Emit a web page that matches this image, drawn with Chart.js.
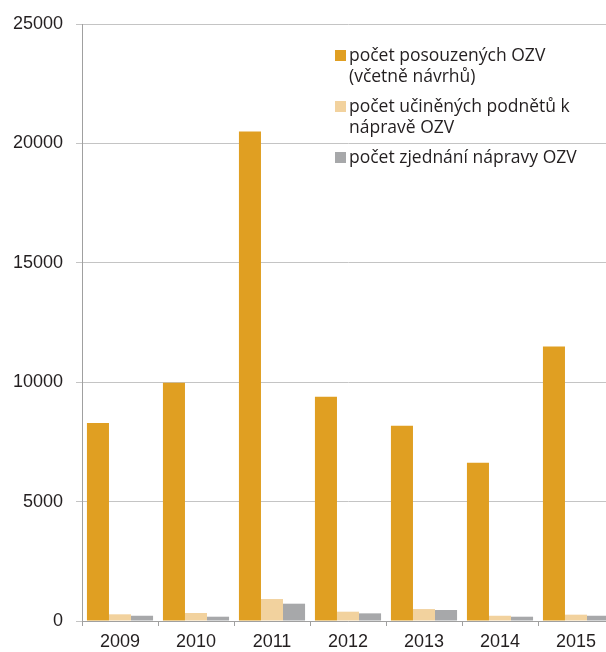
<!DOCTYPE html>
<html>
<head>
<meta charset="utf-8">
<script src="https://cdn.jsdelivr.net/npm/chart.js@4/dist/chart.umd.min.js"></script>
<style>
  html, body { margin: 0; padding: 0; background: #fff; overflow: hidden; }
  #wrap { width: 614px; height: 652px; }
</style>
</head>
<body>
<div id="wrap"><canvas id="myChart"></canvas></div>
<script>
// data
const years = ["2009", "2010", "2011", "2012", "2013", "2014", "2015"];
const posouzeno = [8290, 9980, 20500, 9390, 8180, 6630, 11490];
const podnety = [280, 335, 920, 390, 500, 220, 265];
const zjednano = [220, 180, 725, 320, 460, 180, 220];
const seriesNames = [
  ["počet posouzených OZV", "(včetně návrhů)"],
  ["počet učiněných podnětů k", "nápravě OZV"],
  ["počet zjednání nápravy OZV"]
];
const yTicks = [0, 5000, 10000, 15000, 20000, 25000];

const colors = ["#e09f22", "#f2d29e", "#a7a8aa"];

// legend drawn by hand so the labels can wrap like the original
const sideLegend = {
  id: "sideLegend",
  afterDraw(chart) {
    const ctx = chart.ctx;
    ctx.save();
    ctx.font = "17.5px 'Open Sans'";
    ctx.textBaseline = "middle";
    let y = 56;
    seriesNames.forEach(function (lines, i) {
      ctx.fillStyle = colors[i];
      ctx.fillRect(335, y - 6, 11, 11);
      ctx.fillStyle = "#231f20";
      lines.forEach(function (line, j) {
        ctx.fillText(line, 349, y + j * 21);
      });
      y += lines.length * 21 + 9;
    });
    ctx.restore();
  }
};

const ctx = document.getElementById("myChart").getContext("2d");
new Chart(ctx, {
  type: "bar",
  data: {
    labels: years,
    datasets: [posouzeno, podnety, zjednano].map(function (d, i) {
      return {
        label: seriesNames[i].join(" "),
        data: d,
        backgroundColor: colors[i],
        borderWidth: 0,
        barPercentage: 1,
        categoryPercentage: 0.87
      };
    })
  },
  options: {
    responsive: true,
    maintainAspectRatio: false,
    animation: false,
    layout: { padding: { top: 24, right: 0, left: 0, bottom: 0 } },
    plugins: {
      legend: { display: false },
      tooltip: { enabled: false }
    },
    scales: {
      x: {
        grid: {
          offset: true,
          drawOnChartArea: false,
          color: "#a0a0a0",
          tickLength: 5
        },
        border: { color: "#a0a0a0" },
        ticks: {
          color: "#231f20",
          font: { family: "'Liberation Sans', Arial, sans-serif", size: 18 },
          padding: 5
        },
        afterFit: function (s) { s.height = 31; }
      },
      y: {
        min: 0,
        max: 25000,
        afterBuildTicks: function (s) {
          s.ticks = yTicks.map(function (v) { return { value: v }; });
        },
        grid: { color: "#c4c4c4", tickLength: 6 },
        border: { color: "#a0a0a0" },
        ticks: {
          color: "#231f20",
          font: { family: "'Liberation Sans', Arial, sans-serif", size: 18 },
          padding: 13,
          callback: function (v) { return String(v); }
        },
        afterFit: function (s) { s.width = 82; }
      }
    }
  },
  plugins: [sideLegend]
});
</script>
</body>
</html>
